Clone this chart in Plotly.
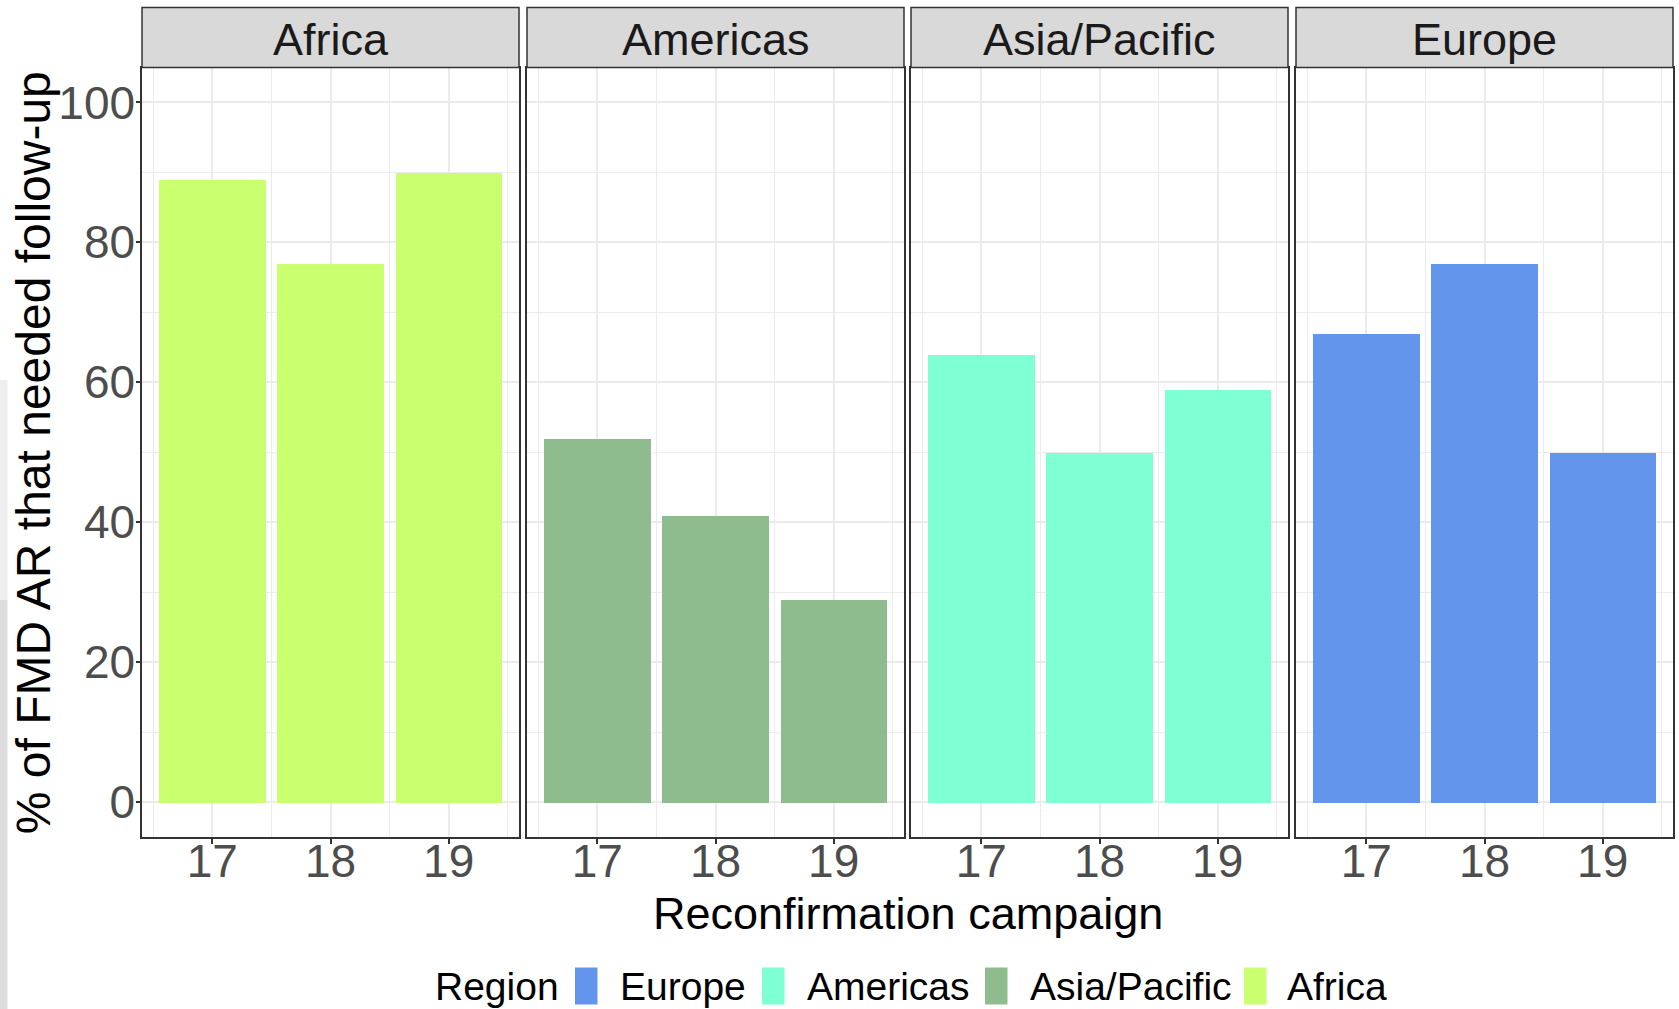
import plotly.graph_objects as go

# ---- data ----
campaigns = [17, 18, 19]
regions = ["Africa", "Americas", "Asia/Pacific", "Europe"]
africa = [89, 77, 90]
americas = [52, 41, 29]
asia_pacific = [64, 50, 59]
europe = [67, 77, 50]
panel_values = [africa, americas, asia_pacific, europe]
bar_colors = ["#CAFF70", "#8FBC8F", "#7FFFD4", "#6495ED"]
legend_labels = ["Europe", "Americas", "Asia/Pacific", "Africa"]
legend_colors = ["#6495ED", "#7FFFD4", "#8FBC8F", "#CAFF70"]
y_ticks = [0, 20, 40, 60, 80, 100]
y_minor = [10, 30, 50, 70, 90]
x_minor = [16.5, 17.5, 18.5, 19.5]

W, H = 1679, 1009
FONT = "Liberation Sans, Arial, sans-serif"

def px_x(v):
    return v / W

def px_y(v):
    return 1 - v / H

panel_px = [(142, 519), (527, 904), (911, 1288), (1296, 1673)]
plot_top, plot_bot = 67.5, 837
strip_top = 7.5

fig = go.Figure()
layout = {}
shapes = []
annotations = []

for i, (reg, vals, col) in enumerate(zip(regions, panel_values, bar_colors)):
    sfx = "" if i == 0 else str(i + 1)
    fig.add_trace(go.Bar(
        x=campaigns, y=vals, width=0.9,
        marker=dict(color=col, line=dict(width=0)),
        xaxis="x" + sfx, yaxis="y" + sfx, showlegend=False, hoverinfo="skip",
    ))
    dom = [px_x(panel_px[i][0]), px_x(panel_px[i][1])]
    layout["xaxis" + sfx] = dict(
        domain=dom, range=[16.405, 19.595], anchor="y" + sfx,
        tickmode="array", tickvals=campaigns, ticktext=[str(c) for c in campaigns],
        ticks="outside", ticklen=5, tickwidth=1.5, tickcolor="#333333",
        ticklabelstandoff=-22,
        showgrid=True, gridcolor="#EBEBEB", gridwidth=2,
        minor=dict(tickvals=x_minor, showgrid=True, gridcolor="#EBEBEB", gridwidth=1.2, ticks=""),
        showline=True, linecolor="#333333", linewidth=1.5, mirror=True,
        zeroline=False, fixedrange=True,
        tickfont=dict(family=FONT, size=46, color="#4D4D4D"),
    )
    layout["yaxis" + sfx] = dict(
        domain=[px_y(plot_bot), px_y(plot_top)], range=[-5, 105], anchor="x" + sfx,
        tickmode="array", tickvals=y_ticks,
        ticks="outside" if i == 0 else "", ticklen=4, tickwidth=1.5, tickcolor="#333333",
        ticklabelstandoff=-8,
        showticklabels=(i == 0),
        showgrid=True, gridcolor="#EBEBEB", gridwidth=2,
        minor=dict(tickvals=y_minor, showgrid=True, gridcolor="#EBEBEB", gridwidth=1.2, ticks=""),
        showline=True, linecolor="#333333", linewidth=1.5, mirror=True,
        zeroline=False, fixedrange=True,
        tickfont=dict(family=FONT, size=46, color="#4D4D4D"),
    )
    # facet strip
    shapes.append(dict(type="rect", xref="paper", yref="paper",
                       x0=dom[0], x1=dom[1], y0=px_y(plot_top), y1=px_y(strip_top),
                       fillcolor="#D9D9D9", line=dict(color="#333333", width=1.5), layer="above"))
    annotations.append(dict(xref="paper", yref="paper", x=(dom[0] + dom[1]) / 2,
                            y=px_y(39), text=reg, showarrow=False,
                            xanchor="center", yanchor="middle",
                            font=dict(family=FONT, size=45, color="#1A1A1A")))

# axis titles
annotations.append(dict(xref="paper", yref="paper", x=px_x(907.5), y=px_y(913),
                        text="Reconfirmation campaign", showarrow=False,
                        xanchor="center", yanchor="middle",
                        font=dict(family=FONT, size=45, color="#000000")))
annotations.append(dict(xref="paper", yref="paper", x=px_x(33), y=px_y((plot_top + plot_bot) / 2 + 1),
                        text="% of FMD AR that needed follow-up", showarrow=False, textangle=-90,
                        xanchor="center", yanchor="middle",
                        font=dict(family=FONT, size=48, color="#000000")))

# legend (manual, to get tall ggplot-style keys)
leg_y = 986
annotations.append(dict(xref="paper", yref="paper", x=px_x(433), y=px_y(leg_y),
                        text="Region", showarrow=False, xanchor="left", yanchor="middle",
                        font=dict(family=FONT, size=39, color="#000000")))
key_x = [575, 762, 985, 1244]
text_x = [618, 805, 1028, 1285]
for lab, col, kx, tx in zip(legend_labels, legend_colors, key_x, text_x):
    shapes.append(dict(type="rect", xref="paper", yref="paper",
                       x0=px_x(kx), x1=px_x(kx + 22.5), y0=px_y(1004.5), y1=px_y(967.5),
                       fillcolor=col, line=dict(width=0)))
    annotations.append(dict(xref="paper", yref="paper", x=px_x(tx), y=px_y(leg_y),
                            text=lab, showarrow=False, xanchor="left", yanchor="middle",
                            font=dict(family=FONT, size=39, color="#000000")))

# light grey edge artifact on the left
shapes.append(dict(type="rect", xref="paper", yref="paper", x0=0, x1=px_x(7.5),
                   y0=0, y1=px_y(600), fillcolor="#DDDDDD", line=dict(width=0), layer="below"))
shapes.append(dict(type="rect", xref="paper", yref="paper", x0=0, x1=px_x(7.5),
                   y0=px_y(600), y1=px_y(380), fillcolor="#EEEEEE", line=dict(width=0), layer="below"))

fig.update_layout(
    width=W, height=H, margin=dict(l=0, r=0, t=0, b=0),
    paper_bgcolor="white", plot_bgcolor="white",
    bargap=0, showlegend=False,
    shapes=shapes, annotations=annotations,
    font=dict(family=FONT),
    **layout,
)

fig.write_html("out.html", config={"displayModeBar": False},
               post_script="document.body.style.margin='0';document.body.style.overflow='hidden';")
